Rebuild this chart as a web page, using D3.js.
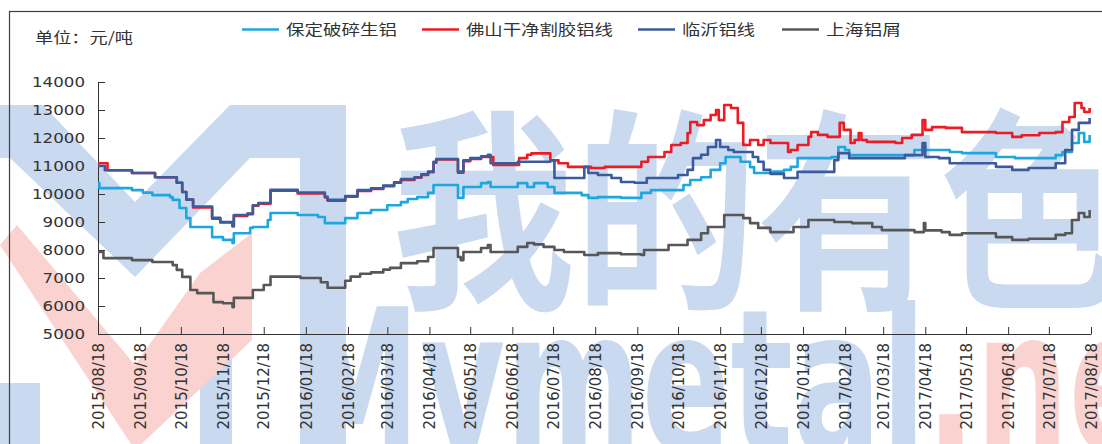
<!DOCTYPE html>
<html>
<head>
<meta charset="utf-8">
<script src="https://cdn.jsdelivr.net/npm/d3@7"></script>
<style>
  body { margin: 0; background: #fff; }
  svg { display: block; }
  text { font-family: "DejaVu Sans", Verdana, sans-serif; }
</style>
</head>
<body>
<svg id="chart" width="1102" height="444"></svg>
<script>
// x axis tick labels (monthly, 18th)
const tickLabels = [
  "2015/08/18", "2015/09/18", "2015/10/18", "2015/11/18", "2015/12/18",
  "2016/01/18", "2016/02/18", "2016/03/18", "2016/04/18", "2016/05/18",
  "2016/06/18", "2016/07/18", "2016/08/18", "2016/09/18", "2016/10/18",
  "2016/11/18", "2016/12/18", "2017/01/18", "2017/02/18", "2017/03/18",
  "2017/04/18", "2017/05/18", "2017/06/18", "2017/07/18", "2017/08/18"
];
const yTicks = [5000, 6000, 7000, 8000, 9000, 10000, 11000, 12000, 13000, 14000];

const seriesNames = ["保定破碎生铝", "佛山干净割胶铝线", "临沂铝线", "上海铝屑"];
const seriesColors = ["#1ea7df", "#ec1c24", "#3b5b9d", "#575757"];

// step change points [date, price]
const baoding = [
  ["2015-08-18", 10390], ["2015-08-19", 10210], ["2015-09-12", 10140], ["2015-09-20", 10050],
  ["2015-09-27", 9960], ["2015-10-10", 9890], ["2015-10-12", 9790], ["2015-10-17", 9500],
  ["2015-10-22", 9140], ["2015-10-25", 8820], ["2015-11-10", 8460], ["2015-11-18", 8360],
  ["2015-11-25", 8250], ["2015-11-26", 8600], ["2015-12-08", 8790], ["2015-12-10", 8820],
  ["2015-12-21", 9070], ["2015-12-23", 9320], ["2016-01-12", 9250], ["2016-01-27", 9180],
  ["2016-02-01", 8960], ["2016-02-16", 9140], ["2016-02-25", 9320], ["2016-03-06", 9430],
  ["2016-03-18", 9600], ["2016-03-28", 9710], ["2016-04-02", 9820], ["2016-04-09", 9890],
  ["2016-04-17", 10040], ["2016-04-21", 10320], ["2016-05-09", 9860], ["2016-05-13", 10250],
  ["2016-05-26", 10390], ["2016-05-31", 10430], ["2016-06-02", 10250], ["2016-06-22", 10390],
  ["2016-06-29", 10250], ["2016-07-04", 10390], ["2016-07-14", 10250], ["2016-07-19", 10040],
  ["2016-08-08", 9960], ["2016-08-13", 9860], ["2016-08-20", 9890], ["2016-09-06", 9860],
  ["2016-09-21", 10040], ["2016-09-28", 10140], ["2016-10-22", 10320], ["2016-10-27", 10500],
  ["2016-11-04", 10600], ["2016-11-11", 10860], ["2016-11-18", 11100], ["2016-11-22", 11320],
  ["2016-12-03", 11150], ["2016-12-10", 10960], ["2016-12-13", 10750], ["2016-12-27", 10800],
  ["2017-01-04", 10860], ["2017-01-09", 10970], ["2017-01-14", 11280], ["2017-02-08", 11320],
  ["2017-02-13", 11680], ["2017-02-18", 11570], ["2017-02-21", 11390], ["2017-04-03", 11390],
  ["2017-04-10", 11570], ["2017-04-16", 11680], ["2017-04-18", 11570], ["2017-05-06", 11500],
  ["2017-05-15", 11460], ["2017-06-09", 11320], ["2017-06-23", 11280], ["2017-07-23", 11390],
  ["2017-07-28", 11500], ["2017-08-04", 11820], ["2017-08-09", 12180], ["2017-08-13", 11860],
  ["2017-08-17", 12110]
];

const foshan = [
  ["2015-08-18", 11100], ["2015-08-25", 10850], ["2015-09-12", 10750], ["2015-09-29", 10600],
  ["2015-10-15", 10400], ["2015-10-19", 10070], ["2015-10-22", 9800], ["2015-10-27", 9520],
  ["2015-11-10", 9120], ["2015-11-16", 8980], ["2015-11-25", 8840], ["2015-11-26", 9220],
  ["2015-12-06", 9280], ["2015-12-10", 9580], ["2015-12-14", 9650], ["2015-12-23", 10120],
  ["2016-01-12", 10020], ["2016-02-01", 9880], ["2016-02-03", 9760], ["2016-02-16", 9900],
  ["2016-02-25", 10110], ["2016-03-06", 10180], ["2016-03-15", 10280], ["2016-03-23", 10400],
  ["2016-03-28", 10500], ["2016-04-07", 10580], ["2016-04-12", 10680], ["2016-04-17", 10780],
  ["2016-04-21", 11120], ["2016-04-23", 11230], ["2016-05-09", 10760], ["2016-05-13", 11170],
  ["2016-05-18", 11250], ["2016-05-26", 11320], ["2016-06-04", 11040], ["2016-06-23", 11280],
  ["2016-06-29", 11400], ["2016-07-02", 11450], ["2016-07-16", 11200], ["2016-07-22", 11100],
  ["2016-07-29", 10970], ["2016-08-15", 10930], ["2016-08-25", 10970], ["2016-09-21", 11150],
  ["2016-09-26", 11320], ["2016-10-08", 11500], ["2016-10-13", 11750], ["2016-10-20", 11820],
  ["2016-10-25", 12180], ["2016-10-27", 12570], ["2016-11-01", 12460], ["2016-11-06", 12640],
  ["2016-11-11", 12820], ["2016-11-15", 13000], ["2016-11-17", 12640], ["2016-11-21", 13180],
  ["2016-11-26", 13070], ["2016-12-01", 12540], ["2016-12-05", 11750], ["2016-12-10", 11930],
  ["2016-12-16", 11750], ["2016-12-20", 11930], ["2016-12-25", 11820], ["2017-01-07", 11500],
  ["2017-01-09", 11570], ["2017-01-14", 11750], ["2017-01-22", 12040], ["2017-01-24", 12210],
  ["2017-01-29", 12110], ["2017-02-05", 12040], ["2017-02-14", 12540], ["2017-02-17", 12290],
  ["2017-02-22", 11820], ["2017-02-25", 11930], ["2017-02-28", 12180], ["2017-03-02", 11930],
  ["2017-03-06", 11860], ["2017-03-27", 11820], ["2017-04-01", 12000], ["2017-04-08", 12110],
  ["2017-04-16", 12640], ["2017-04-18", 12290], ["2017-04-23", 12390], ["2017-05-03", 12360],
  ["2017-05-15", 12210], ["2017-06-09", 12180], ["2017-06-21", 12040], ["2017-06-28", 12100],
  ["2017-07-11", 12180], ["2017-07-23", 12210], ["2017-07-28", 12570], ["2017-08-02", 12750],
  ["2017-08-06", 13250], ["2017-08-11", 13070], ["2017-08-13", 12930], ["2017-08-17", 13070]
];

const linyi = [
  ["2015-08-18", 11000], ["2015-08-23", 10850], ["2015-09-12", 10750], ["2015-09-29", 10600],
  ["2015-10-15", 10400], ["2015-10-19", 10070], ["2015-10-22", 9800], ["2015-10-27", 9550],
  ["2015-11-10", 9150], ["2015-11-16", 9000], ["2015-11-25", 8870], ["2015-11-26", 9250],
  ["2015-12-06", 9300], ["2015-12-10", 9600], ["2015-12-14", 9680], ["2015-12-23", 10150],
  ["2016-01-12", 10050], ["2016-02-01", 9900], ["2016-02-03", 9790], ["2016-02-16", 9930],
  ["2016-02-25", 10140], ["2016-03-06", 10200], ["2016-03-15", 10300], ["2016-03-23", 10420],
  ["2016-03-28", 10530], ["2016-04-07", 10600], ["2016-04-12", 10700], ["2016-04-17", 10800],
  ["2016-04-21", 11150], ["2016-04-23", 11250], ["2016-05-09", 10800], ["2016-05-13", 11200],
  ["2016-05-18", 11280], ["2016-05-26", 11350], ["2016-05-31", 11400], ["2016-06-02", 11100],
  ["2016-06-22", 11150], ["2016-07-16", 11200], ["2016-07-19", 10570], ["2016-08-10", 10970],
  ["2016-08-13", 10750], ["2016-08-20", 10680], ["2016-08-30", 10570], ["2016-09-06", 10430],
  ["2016-09-16", 10400], ["2016-09-25", 10570], ["2016-10-18", 10680], ["2016-10-25", 10860],
  ["2016-10-29", 11280], ["2016-11-04", 11400], ["2016-11-09", 11680], ["2016-11-15", 11930],
  ["2016-11-18", 11680], ["2016-11-24", 11570], ["2016-11-28", 11500], ["2016-12-12", 11320],
  ["2016-12-16", 11150], ["2016-12-20", 10860], ["2016-12-25", 10720], ["2017-01-04", 10570],
  ["2017-01-14", 10790], ["2017-02-10", 11210], ["2017-02-13", 11460], ["2017-02-21", 11280],
  ["2017-04-03", 11390], ["2017-04-16", 11820], ["2017-04-18", 11320], ["2017-04-28", 11280],
  ["2017-05-06", 11100], ["2017-06-09", 10970], ["2017-06-21", 10860], ["2017-07-03", 10930],
  ["2017-07-23", 11100], ["2017-07-30", 11570], ["2017-08-04", 12290], ["2017-08-09", 12540],
  ["2017-08-17", 12710]
];

const shanghai = [
  ["2015-08-18", 7930], ["2015-08-22", 7710], ["2015-09-12", 7640], ["2015-09-27", 7570],
  ["2015-10-12", 7460], ["2015-10-15", 7290], ["2015-10-19", 7040], ["2015-10-25", 6570],
  ["2015-10-30", 6460], ["2015-11-11", 6140], ["2015-11-18", 6100], ["2015-11-25", 5960],
  ["2015-11-26", 6290], ["2015-12-10", 6570], ["2015-12-18", 6750], ["2015-12-23", 7050],
  ["2016-01-14", 7000], ["2016-01-29", 6850], ["2016-02-03", 6650], ["2016-02-16", 6900],
  ["2016-02-20", 7050], ["2016-02-27", 7150], ["2016-03-06", 7200], ["2016-03-15", 7300],
  ["2016-03-20", 7360], ["2016-03-28", 7530], ["2016-04-09", 7600], ["2016-04-17", 7750],
  ["2016-04-21", 8070], ["2016-05-09", 7750], ["2016-05-11", 7640], ["2016-05-13", 7930],
  ["2016-05-26", 8070], ["2016-05-31", 8180], ["2016-06-02", 7930], ["2016-06-22", 8110],
  ["2016-06-29", 8250], ["2016-07-04", 8200], ["2016-07-11", 8110], ["2016-07-19", 8000],
  ["2016-07-26", 7930], ["2016-08-10", 7820], ["2016-08-20", 7890], ["2016-09-06", 7850],
  ["2016-09-21", 7820], ["2016-09-23", 8000], ["2016-10-11", 8180], ["2016-10-25", 8360],
  ["2016-11-04", 8600], ["2016-11-09", 8820], ["2016-11-21", 9250], ["2016-12-05", 9140],
  ["2016-12-10", 8960], ["2016-12-16", 8790], ["2016-12-25", 8640], ["2017-01-11", 8820],
  ["2017-01-22", 9070], ["2017-02-10", 9000], ["2017-02-23", 8960], ["2017-03-10", 8820],
  ["2017-03-17", 8710], ["2017-04-10", 8640], ["2017-04-17", 8960], ["2017-04-18", 8700],
  ["2017-04-30", 8640], ["2017-05-06", 8540], ["2017-05-15", 8600], ["2017-06-09", 8460],
  ["2017-06-21", 8360], ["2017-07-03", 8400], ["2017-07-23", 8540], ["2017-07-30", 8600],
  ["2017-08-04", 9070], ["2017-08-09", 9320], ["2017-08-13", 9180], ["2017-08-17", 9430]
];

const allSeries = [baoding, foshan, linyi, shanghai];

const svg = d3.select("#chart");
const margin = { left: 98, right: 1091, top: 82, bottom: 334 };
const parse = d3.timeParse("%Y-%m-%d");
const parseTick = d3.timeParse("%Y/%m/%d");

const x = d3.scaleTime()
  .domain([parseTick(tickLabels[0]), parseTick(tickLabels[tickLabels.length - 1])])
  .range([margin.left, margin.right]);
const y = d3.scaleLinear()
  .domain([5000, 14000])
  .range([margin.bottom, margin.top]);

// watermark
const wm = svg.append("g").attr("class", "watermark");
const wmBlue = "#c9d9f0", wmPink = "#fad3d0";
wm.append("polygon")
  .attr("points", "0,105 43,105 135,202 230,105 345,105 345,158 250,158 135,277 10,158 0,158")
  .attr("fill", wmBlue);
wm.append("rect").attr("x", 300).attr("y", 105).attr("width", 46).attr("height", 340).attr("fill", wmBlue);
wm.append("rect").attr("x", 0).attr("y", 383).attr("width", 40).attr("height", 61).attr("fill", wmBlue);
wm.append("rect").attr("x", 200).attr("y", 336).attr("width", 32).attr("height", 108).attr("fill", wmBlue);
wm.append("polygon")
  .attr("points", "0,245 17,225 135,365 200,273 252,233 252,340 135,450")
  .attr("fill", wmPink);
wm.append("text")
  .attr("x", 392).attr("y", 292)
  .attr("textLength", 730).attr("lengthAdjust", "spacingAndGlyphs")
  .style("font-family", "'Noto Sans CJK SC'")
  .style("font-size", "215px")
  .style("font-weight", "bold")
  .attr("fill", wmBlue)
  .text("我的有色");
const wmText = wm.append("text")
  .attr("x", 290).attr("y", 452)
  .style("font-size", "200px").style("font-weight", "bold")
  .attr("textLength", 930).attr("lengthAdjust", "spacingAndGlyphs");
wmText.append("tspan").attr("fill", wmBlue).text("Mymetal");
wmText.append("tspan").attr("fill", wmPink).text(".net");

// frame
svg.append("rect")
  .attr("x", 9.5).attr("y", 11.5)
  .attr("width", 1200).attr("height", 600)
  .attr("fill", "none").attr("stroke", "#404040").attr("stroke-width", 1.2);

// axes
const yAxis = svg.append("g")
  .attr("transform", `translate(${margin.left},0)`)
  .call(d3.axisLeft(y).tickValues(yTicks).tickSizeInner(-7).tickSizeOuter(0).tickPadding(13).tickFormat(d3.format("d")));
yAxis.selectAll("text")
  .style("font-size", "14px")
  .attr("fill", "#333")
  .attr("textLength", d => String(d).length * 10.6)
  .attr("lengthAdjust", "spacingAndGlyphs");

const xAxis = svg.append("g")
  .attr("transform", `translate(0,${margin.bottom})`)
  .call(d3.axisBottom(x).tickValues(tickLabels.map(parseTick)).tickSizeInner(-7).tickSizeOuter(0)
    .tickFormat(d3.timeFormat("%Y/%m/%d")));
xAxis.selectAll("text")
  .style("font-size", "15px")
  .attr("fill", "#333")
  .attr("text-anchor", "end")
  .attr("transform", "rotate(-90)")
  .attr("x", -9)
  .attr("y", 0)
  .attr("dy", "0.35em");
svg.selectAll(".domain, .tick line").attr("stroke", "#333");

// lines
const line = d3.line()
  .x(d => x(parse(d[0])))
  .y(d => y(d[1]))
  .curve(d3.curveStepAfter);

allSeries.forEach((s, i) => {
  svg.append("path")
    .datum(s)
    .attr("fill", "none")
    .attr("stroke", seriesColors[i])
    .attr("stroke-width", 2.6)
    .attr("stroke-linejoin", "round")
    .attr("d", line);
});

// unit label
svg.append("text")
  .attr("x", 35).attr("y", 43)
  .attr("textLength", 98).attr("lengthAdjust", "spacingAndGlyphs")
  .style("font-family", "'Noto Sans CJK SC'")
  .style("font-size", "15px")
  .attr("fill", "#333")
  .text("单位：元/吨");

// legend
const legendX = [242, 422, 638, 782];
const legendW = [111, 147, 73, 75];
const legend = svg.append("g");
seriesNames.forEach((name, i) => {
  legend.append("line")
    .attr("x1", legendX[i]).attr("x2", legendX[i] + 37)
    .attr("y1", 29.5).attr("y2", 29.5)
    .attr("stroke", seriesColors[i]).attr("stroke-width", 2.6);
  legend.append("text")
    .attr("x", legendX[i] + 44).attr("y", 35)
    .attr("textLength", legendW[i]).attr("lengthAdjust", "spacingAndGlyphs")
    .style("font-family", "'Noto Sans CJK SC'")
    .style("font-size", "15px")
    .attr("fill", "#333")
    .text(name);
});
</script>
</body>
</html>
